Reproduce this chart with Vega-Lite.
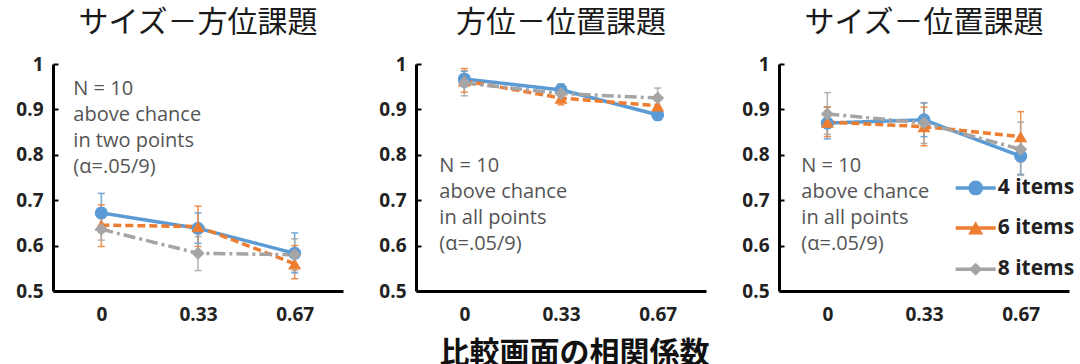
{
  "$schema": "https://vega.github.io/schema/vega-lite/v6.json",
  "background": "white",
  "padding": {"left": 15, "top": 8, "right": 0, "bottom": 0},
  "spacing": 73,
  "bounds": "flush",
  "config": {
    "view": {"stroke": null},
    "font": "Open Sans",
    "axis": {"domainColor": "#000000", "domainWidth": 3, "labelFont": "Open Sans", "labelFontWeight": "bold", "labelFontSize": 19, "labelColor": "#222222", "grid": false},
    "title": {"font": "Noto Sans CJK JP", "fontSize": 30, "fontWeight": "normal", "color": "#1a1a1a", "offset": 17}
  },
  "resolve": {"scale": {"color": "independent", "shape": "independent", "strokeDash": "independent"}, "legend": {"color": "independent", "shape": "independent", "strokeDash": "independent"}},
  "datasets": {
    "d": [
      {"task": "A", "r": "0", "series": "4 items", "mean": 0.672, "lo": 0.630, "hi": 0.715},
      {"task": "A", "r": "0.33", "series": "4 items", "mean": 0.638, "lo": 0.605, "hi": 0.672},
      {"task": "A", "r": "0.67", "series": "4 items", "mean": 0.583, "lo": 0.540, "hi": 0.628},
      {"task": "A", "r": "0", "series": "6 items", "mean": 0.645, "lo": 0.598, "hi": 0.690},
      {"task": "A", "r": "0.33", "series": "6 items", "mean": 0.642, "lo": 0.598, "hi": 0.687},
      {"task": "A", "r": "0.67", "series": "6 items", "mean": 0.560, "lo": 0.527, "hi": 0.600},
      {"task": "A", "r": "0", "series": "8 items", "mean": 0.636, "lo": 0.612, "hi": 0.660},
      {"task": "A", "r": "0.33", "series": "8 items", "mean": 0.583, "lo": 0.545, "hi": 0.620},
      {"task": "A", "r": "0.67", "series": "8 items", "mean": 0.580, "lo": 0.545, "hi": 0.615},
      {"task": "B", "r": "0", "series": "4 items", "mean": 0.967, "lo": 0.950, "hi": 0.984},
      {"task": "B", "r": "0.33", "series": "4 items", "mean": 0.943, "lo": 0.930, "hi": 0.956},
      {"task": "B", "r": "0.67", "series": "4 items", "mean": 0.888, "lo": 0.876, "hi": 0.900},
      {"task": "B", "r": "0", "series": "6 items", "mean": 0.963, "lo": 0.938, "hi": 0.990},
      {"task": "B", "r": "0.33", "series": "6 items", "mean": 0.925, "lo": 0.910, "hi": 0.940},
      {"task": "B", "r": "0.67", "series": "6 items", "mean": 0.908, "lo": 0.890, "hi": 0.926},
      {"task": "B", "r": "0", "series": "8 items", "mean": 0.958, "lo": 0.930, "hi": 0.985},
      {"task": "B", "r": "0.33", "series": "8 items", "mean": 0.935, "lo": 0.915, "hi": 0.955},
      {"task": "B", "r": "0.67", "series": "8 items", "mean": 0.925, "lo": 0.905, "hi": 0.947},
      {"task": "C", "r": "0", "series": "4 items", "mean": 0.870, "lo": 0.835, "hi": 0.905},
      {"task": "C", "r": "0.33", "series": "4 items", "mean": 0.877, "lo": 0.840, "hi": 0.914},
      {"task": "C", "r": "0.67", "series": "4 items", "mean": 0.797, "lo": 0.757, "hi": 0.837},
      {"task": "C", "r": "0", "series": "6 items", "mean": 0.872, "lo": 0.840, "hi": 0.905},
      {"task": "C", "r": "0.33", "series": "6 items", "mean": 0.862, "lo": 0.820, "hi": 0.905},
      {"task": "C", "r": "0.67", "series": "6 items", "mean": 0.840, "lo": 0.785, "hi": 0.895},
      {"task": "C", "r": "0", "series": "8 items", "mean": 0.890, "lo": 0.845, "hi": 0.937},
      {"task": "C", "r": "0.33", "series": "8 items", "mean": 0.870, "lo": 0.825, "hi": 0.915},
      {"task": "C", "r": "0.67", "series": "8 items", "mean": 0.812, "lo": 0.755, "hi": 0.872}
    ],
    "notes": [
      {"task": "A", "r": "0", "ny": 0.968, "label": "N = 10\nabove chance\nin two points\n(α=.05/9)"},
      {"task": "B", "r": "0", "ny": 0.798, "label": "N = 10\nabove chance\nin all points\n(α=.05/9)"},
      {"task": "C", "r": "0", "ny": 0.798, "label": "N = 10\nabove chance\nin all points\n(α=.05/9)"}
    ],
    "one": [{"k": 1}]
  },
  "hconcat": [
    {
      "width": 290, "height": 227,
      "title": "サイズ－方位課題",
      "data": {"name": "d"},
      "transform": [{"filter": "datum.task === 'A'"}],
      "encoding": {
        "x": {"field": "r", "type": "ordinal", "sort": ["0", "0.33", "0.67"], "scale": {"type": "point", "padding": 0.5}, "axis": {"title": null, "ticks": false, "labelAngle": 0, "labelPadding": 14}},
        "color": {"field": "series", "type": "nominal", "scale": {"domain": ["4 items", "6 items", "8 items"], "range": ["#5b9bd5", "#ed7d31", "#a5a5a5"]}, "legend": null}
      },
      "layer": [
        {"mark": {"type": "rule", "strokeWidth": 1.5, "opacity": 0.85}, "encoding": {"y": {"field": "lo", "type": "quantitative", "scale": {"domain": [0.5, 1]}, "axis": {"title": null, "values": [0.5, 0.6, 0.7, 0.8, 0.9, 1], "format": ".1~f", "tickSize": -5, "tickWidth": 2, "tickColor": "#000000", "labelPadding": 15}}, "y2": {"field": "hi"}}},
        {"mark": {"type": "tick", "size": 7, "thickness": 1.5, "opacity": 0.85}, "encoding": {"y": {"field": "lo", "type": "quantitative"}}},
        {"mark": {"type": "tick", "size": 7, "thickness": 1.5, "opacity": 0.85}, "encoding": {"y": {"field": "hi", "type": "quantitative"}}},
        {"mark": {"type": "line", "strokeWidth": 3.5}, "encoding": {"y": {"field": "mean", "type": "quantitative"}, "strokeDash": {"field": "series", "type": "nominal", "scale": {"domain": ["4 items", "6 items", "8 items"], "range": [[1, 0], [8, 4], [12, 4, 3, 4]]}, "legend": null}}},
        {"mark": {"type": "point", "filled": true, "size": 170, "opacity": 1}, "encoding": {"y": {"field": "mean", "type": "quantitative"}, "shape": {"field": "series", "type": "nominal", "scale": {"domain": ["4 items", "6 items", "8 items"], "range": ["circle", "triangle-up", "diamond"]}, "legend": null}}},
        {"data": {"name": "notes"}, "transform": [{"filter": "datum.task === 'A'"}], "mark": {"type": "text", "align": "left", "baseline": "top", "dx": -28, "font": "Open Sans", "fontSize": 20, "lineHeight": 26, "lineBreak": "\n"}, "encoding": {"y": {"field": "ny", "type": "quantitative"}, "text": {"field": "label"}, "color": {"value": "#555555"}}}
      ]
    },
    {
      "width": 290, "height": 227,
      "title": "方位－位置課題",
      "data": {"name": "d"},
      "transform": [{"filter": "datum.task === 'B'"}],
      "encoding": {
        "x": {"field": "r", "type": "ordinal", "sort": ["0", "0.33", "0.67"], "scale": {"type": "point", "padding": 0.5}, "axis": {"title": "比較画面の相関係数", "titleFont": "Noto Sans CJK JP", "titleFontSize": 30, "titleFontWeight": "bold", "titleColor": "#111111", "titlePadding": 14, "titleX": 158, "ticks": false, "labelAngle": 0, "labelPadding": 14}},
        "color": {"field": "series", "type": "nominal", "scale": {"domain": ["4 items", "6 items", "8 items"], "range": ["#5b9bd5", "#ed7d31", "#a5a5a5"]}, "legend": null}
      },
      "layer": [
        {"mark": {"type": "rule", "strokeWidth": 1.5, "opacity": 0.85}, "encoding": {"y": {"field": "lo", "type": "quantitative", "scale": {"domain": [0.5, 1]}, "axis": {"title": null, "values": [0.5, 0.6, 0.7, 0.8, 0.9, 1], "format": ".1~f", "tickSize": -5, "tickWidth": 2, "tickColor": "#000000", "labelPadding": 15}}, "y2": {"field": "hi"}}},
        {"mark": {"type": "tick", "size": 7, "thickness": 1.5, "opacity": 0.85}, "encoding": {"y": {"field": "lo", "type": "quantitative"}}},
        {"mark": {"type": "tick", "size": 7, "thickness": 1.5, "opacity": 0.85}, "encoding": {"y": {"field": "hi", "type": "quantitative"}}},
        {"mark": {"type": "line", "strokeWidth": 3.5}, "encoding": {"y": {"field": "mean", "type": "quantitative"}, "strokeDash": {"field": "series", "type": "nominal", "scale": {"domain": ["4 items", "6 items", "8 items"], "range": [[1, 0], [8, 4], [12, 4, 3, 4]]}, "legend": null}}},
        {"mark": {"type": "point", "filled": true, "size": 170, "opacity": 1}, "encoding": {"y": {"field": "mean", "type": "quantitative"}, "shape": {"field": "series", "type": "nominal", "scale": {"domain": ["4 items", "6 items", "8 items"], "range": ["circle", "triangle-up", "diamond"]}, "legend": null}}},
        {"data": {"name": "notes"}, "transform": [{"filter": "datum.task === 'B'"}], "mark": {"type": "text", "align": "left", "baseline": "top", "dx": -25, "font": "Open Sans", "fontSize": 20, "lineHeight": 26, "lineBreak": "\n"}, "encoding": {"y": {"field": "ny", "type": "quantitative"}, "text": {"field": "label"}, "color": {"value": "#555555"}}}
      ]
    },
    {
      "width": 290, "height": 227,
      "title": "サイズ－位置課題",
      "data": {"name": "d"},
      "transform": [{"filter": "datum.task === 'C'"}],
      "encoding": {
        "x": {"field": "r", "type": "ordinal", "sort": ["0", "0.33", "0.67"], "scale": {"type": "point", "padding": 0.5}, "axis": {"title": null, "ticks": false, "labelAngle": 0, "labelPadding": 14}},
        "color": {"field": "series", "type": "nominal", "scale": {"domain": ["4 items", "6 items", "8 items"], "range": ["#5b9bd5", "#ed7d31", "#a5a5a5"]}, "legend": null}
      },
      "layer": [
        {"mark": {"type": "rule", "strokeWidth": 1.5, "opacity": 0.85}, "encoding": {"y": {"field": "lo", "type": "quantitative", "scale": {"domain": [0.5, 1]}, "axis": {"title": null, "values": [0.5, 0.6, 0.7, 0.8, 0.9, 1], "format": ".1~f", "tickSize": -5, "tickWidth": 2, "tickColor": "#000000", "labelPadding": 15}}, "y2": {"field": "hi"}}},
        {"mark": {"type": "tick", "size": 7, "thickness": 1.5, "opacity": 0.85}, "encoding": {"y": {"field": "lo", "type": "quantitative"}}},
        {"mark": {"type": "tick", "size": 7, "thickness": 1.5, "opacity": 0.85}, "encoding": {"y": {"field": "hi", "type": "quantitative"}}},
        {"mark": {"type": "line", "strokeWidth": 3.5}, "encoding": {"y": {"field": "mean", "type": "quantitative"}, "strokeDash": {"field": "series", "type": "nominal", "scale": {"domain": ["4 items", "6 items", "8 items"], "range": [[1, 0], [8, 4], [12, 4, 3, 4]]}, "legend": null}}},
        {"mark": {"type": "point", "filled": true, "size": 170, "opacity": 1}, "encoding": {"y": {"field": "mean", "type": "quantitative"}, "shape": {"field": "series", "type": "nominal", "scale": {"domain": ["4 items", "6 items", "8 items"], "range": ["circle", "triangle-up", "diamond"]}, "legend": null}}},
        {"data": {"name": "notes"}, "transform": [{"filter": "datum.task === 'C'"}], "mark": {"type": "text", "align": "left", "baseline": "top", "dx": -26, "font": "Open Sans", "fontSize": 20, "lineHeight": 26, "lineBreak": "\n"}, "encoding": {"y": {"field": "ny", "type": "quantitative"}, "text": {"field": "label"}, "color": {"value": "#555555"}}},
        {"data": {"name": "one"}, "mark": {"type": "tick", "size": 40, "thickness": 3.5, "opacity": 1, "xOffset": -45}, "encoding": {"x": {"datum": "0.67"}, "y": {"datum": 0.727}, "color": {"value": "#5b9bd5"}}},
        {"data": {"name": "one"}, "mark": {"type": "point", "filled": true, "size": 220, "opacity": 1, "shape": "circle", "xOffset": -45}, "encoding": {"x": {"datum": "0.67"}, "y": {"datum": 0.727}, "color": {"value": "#5b9bd5"}}},
        {"data": {"name": "one"}, "mark": {"type": "text", "text": "4 items", "align": "left", "baseline": "middle", "dx": -23, "font": "Open Sans", "fontSize": 21, "fontWeight": "bold"}, "encoding": {"x": {"datum": "0.67"}, "y": {"datum": 0.727}, "color": {"value": "#222222"}}},
        {"data": {"name": "one"}, "mark": {"type": "tick", "size": 40, "thickness": 3.5, "opacity": 1, "xOffset": -45}, "encoding": {"x": {"datum": "0.67"}, "y": {"datum": 0.639}, "color": {"value": "#ed7d31"}}},
        {"data": {"name": "one"}, "mark": {"type": "point", "filled": true, "size": 230, "opacity": 1, "shape": "triangle-up", "xOffset": -45}, "encoding": {"x": {"datum": "0.67"}, "y": {"datum": 0.639}, "color": {"value": "#ed7d31"}}},
        {"data": {"name": "one"}, "mark": {"type": "text", "text": "6 items", "align": "left", "baseline": "middle", "dx": -23, "font": "Open Sans", "fontSize": 21, "fontWeight": "bold"}, "encoding": {"x": {"datum": "0.67"}, "y": {"datum": 0.639}, "color": {"value": "#222222"}}},
        {"data": {"name": "one"}, "mark": {"type": "tick", "size": 40, "thickness": 3.5, "opacity": 1, "xOffset": -45}, "encoding": {"x": {"datum": "0.67"}, "y": {"datum": 0.548}, "color": {"value": "#a5a5a5"}}},
        {"data": {"name": "one"}, "mark": {"type": "point", "filled": true, "size": 170, "opacity": 1, "shape": "diamond", "xOffset": -45}, "encoding": {"x": {"datum": "0.67"}, "y": {"datum": 0.548}, "color": {"value": "#a5a5a5"}}},
        {"data": {"name": "one"}, "mark": {"type": "text", "text": "8 items", "align": "left", "baseline": "middle", "dx": -23, "font": "Open Sans", "fontSize": 21, "fontWeight": "bold"}, "encoding": {"x": {"datum": "0.67"}, "y": {"datum": 0.548}, "color": {"value": "#222222"}}}
      ]
    }
  ]
}
